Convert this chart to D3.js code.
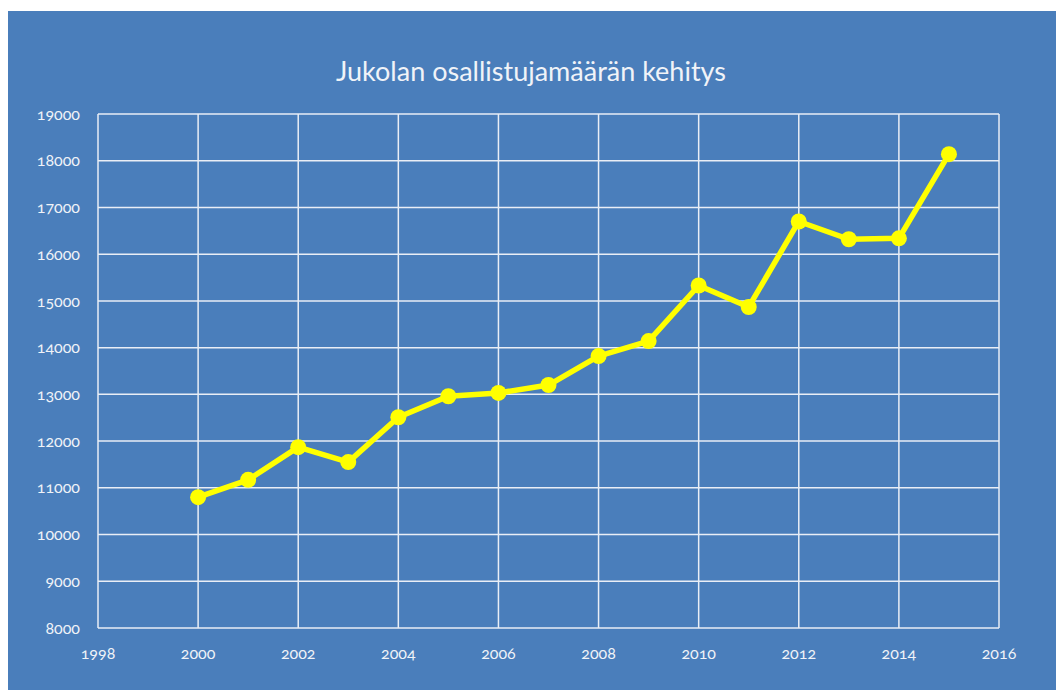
<!DOCTYPE html>
<html>
<head>
<meta charset="utf-8">
<script src="https://cdn.jsdelivr.net/npm/d3@7"></script>
<style>
  body { margin: 0; background: #ffffff; }
  svg text { font-family: Lato, "Open Sans", sans-serif; fill: #f0f3f8; font-variant-numeric: oldstyle-nums; }
</style>
</head>
<body>
<script>
// data
var years = [2000, 2001, 2002, 2003, 2004, 2005, 2006, 2007, 2008, 2009, 2010, 2011, 2012, 2013, 2014, 2015];
var participants = [10800, 11170, 11870, 11550, 12510, 12960, 13030, 13200, 13820, 14140, 15330, 14870, 16700, 16320, 16340, 18140];
var xTicks = [1998, 2000, 2002, 2004, 2006, 2008, 2010, 2012, 2014, 2016];
var yTicks = [8000, 9000, 10000, 11000, 12000, 13000, 14000, 15000, 16000, 17000, 18000, 19000];
var title = 'Jukolan osallistujamäärän kehitys';

var w = 1056, h = 690;
var lineColor = '#ffff00',
    gridColor = '#e9eef6',
    bgColor = '#4a7ebb';
var plot = { left: 98, top: 114, right: 999, bottom: 628 };

var svg = d3.select('body')
    .append('svg')
    .attr('width', w)
    .attr('height', h);

svg.append('rect')
    .attr('x', 8)
    .attr('y', 11)
    .attr('width', w - 8)
    .attr('height', h - 11)
    .attr('fill', bgColor);

var x = d3.scaleLinear()
    .domain([1998, 2016])
    .range([plot.left, plot.right]);
var y = d3.scaleLinear()
    .domain([8000, 19000])
    .range([plot.bottom, plot.top]);

// grid
svg.append('g')
    .selectAll('line')
    .data(yTicks)
    .join('line')
    .attr('x1', plot.left)
    .attr('x2', plot.right)
    .attr('y1', d => y(d))
    .attr('y2', d => y(d))
    .attr('stroke', gridColor)
    .attr('stroke-width', 1.5);
svg.append('g')
    .selectAll('line')
    .data(xTicks)
    .join('line')
    .attr('x1', d => x(d))
    .attr('x2', d => x(d))
    .attr('y1', plot.top)
    .attr('y2', plot.bottom)
    .attr('stroke', gridColor)
    .attr('stroke-width', 1.5);

// tick labels
svg.append('g')
    .selectAll('text')
    .data(yTicks)
    .join('text')
    .attr('x', 80)
    .attr('y', d => y(d))
    .attr('dy', '0.35em')
    .attr('text-anchor', 'end')
    .attr('font-size', 16)
    .text(d => d);
svg.append('g')
    .selectAll('text')
    .data(xTicks)
    .join('text')
    .attr('x', d => x(d))
    .attr('y', 659)
    .attr('text-anchor', 'middle')
    .attr('font-size', 16)
    .text(d => d);

// title
svg.append('text')
    .attr('x', 531)
    .attr('y', 81)
    .attr('text-anchor', 'middle')
    .attr('font-size', 27)
    .text(title);

// series
var pts = years.map((yr, i) => [yr, participants[i]]);
svg.append('path')
    .datum(pts)
    .attr('fill', 'none')
    .attr('stroke', lineColor)
    .attr('stroke-width', 5.5)
    .attr('stroke-linejoin', 'round')
    .attr('d', d3.line().x(d => x(d[0])).y(d => y(d[1])));
svg.append('g')
    .selectAll('circle')
    .data(pts)
    .join('circle')
    .attr('cx', d => x(d[0]))
    .attr('cy', d => y(d[1]))
    .attr('r', 8)
    .attr('fill', lineColor);
</script>
</body>
</html>
